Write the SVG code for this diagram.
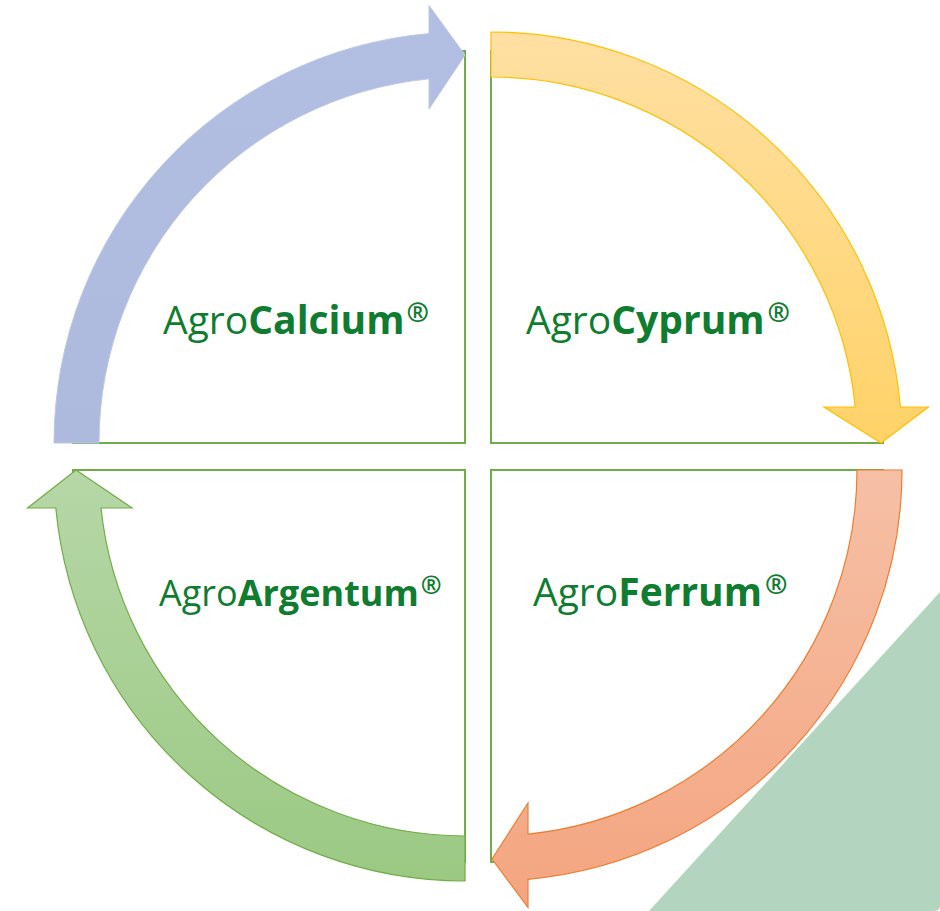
<svg xmlns="http://www.w3.org/2000/svg" width="940" height="911" viewBox="0 0 940 911">
  <defs>
    <style>
      .quad { fill: #FFFFFF; stroke: #70AD47; stroke-width: 2; }
      .lbl { font-family: "Open Sans", "Liberation Sans", sans-serif; font-size: 39px; fill: #107C30; }
      .b { font-weight: bold; }
      .reg { font-weight: bold; font-size: 27px; }
    </style>
    <linearGradient id="gBlue" x1="0" y1="0" x2="0" y2="1">
      <stop offset="0" stop-color="#B2BFE2"/>
      <stop offset="1" stop-color="#ADBADE"/>
    </linearGradient>
    <linearGradient id="gYellow" x1="0" y1="0" x2="0" y2="1">
      <stop offset="0" stop-color="#FFE0A3"/>
      <stop offset="1" stop-color="#FFD268"/>
    </linearGradient>
    <linearGradient id="gOrange" x1="0" y1="0" x2="0" y2="1">
      <stop offset="0" stop-color="#F6C0A6"/>
      <stop offset="1" stop-color="#F4A580"/>
    </linearGradient>
    <linearGradient id="gGreen" x1="0" y1="0" x2="0" y2="1">
      <stop offset="0" stop-color="#B6D7A7"/>
      <stop offset="1" stop-color="#9BC983"/>
    </linearGradient>
  </defs>

  <rect width="940" height="911" fill="#FFFFFF"/>

  <g id="corner-triangle">
    <path d="M940,592 L940,905 Q940,911 934,911 L649,911 Z" fill="#B3D5BF"/>
  </g>

  <g id="node-calcium">
    <path class="quad" d="M465,443 V51 A392,392 0 0 0 73,443 Z"/>
    <text class="lbl" x="163" y="334">Agro<tspan class="b">Calcium</tspan><tspan class="reg" dx="2" dy="-12">®</tspan></text>
  </g>
  <g id="node-cyprum">
    <path class="quad" d="M491,443 V51 A392,392 0 0 1 883,443 Z"/>
    <text class="lbl" x="526" y="334">Agro<tspan class="b">Cyprum</tspan><tspan class="reg" dx="3" dy="-12">®</tspan></text>
  </g>
  <g id="node-ferrum">
    <path class="quad" d="M491,470 H883 A392,392 0 0 1 491,862 Z"/>
    <text class="lbl" x="533" y="606">Agro<tspan class="b">Ferrum</tspan><tspan class="reg" dx="3" dy="-12">®</tspan></text>
  </g>
  <g id="node-argentum">
    <path class="quad" d="M465,470 V862 A392,392 0 0 1 73,470 Z"/>
    <text class="lbl" x="159" y="606" style="font-size:36px">Agro<tspan class="b">Argentum</tspan><tspan class="reg" dx="2" dy="-12" style="font-size:25px">®</tspan></text>
  </g>

  <g id="connectors">
    <path id="arrow-blue" d="M54,443 A411,411 0 0 1 429,33.6 L429,5.5 L465,55 L429,109 L429,78.8 A366,366 0 0 0 99,443 Z" fill="url(#gBlue)" stroke="#BCC7E8" stroke-width="1"/>
    <path id="arrow-yellow" d="M491,32 A411,411 0 0 1 900.4,407 L928.5,407 L881,443 L824,407 L855.2,407 A366,366 0 0 0 491,77 Z" fill="url(#gYellow)" stroke="#FFC000" stroke-width="1.2"/>
    <path id="arrow-orange" d="M902,470 A411,411 0 0 1 528,879.3 L528,907.4 L492,859 L528,803 L528,834.1 A366,366 0 0 0 857,470 Z" fill="url(#gOrange)" stroke="#ED7D31" stroke-width="1.2"/>
    <path id="arrow-green" d="M465,881 A411,411 0 0 1 55.8,508 L27.6,508 L76,470 L132,508 L101,508 A366,366 0 0 0 465,836 Z" fill="url(#gGreen)" stroke="#70AD47" stroke-width="1.2"/>
  </g>
</svg>
